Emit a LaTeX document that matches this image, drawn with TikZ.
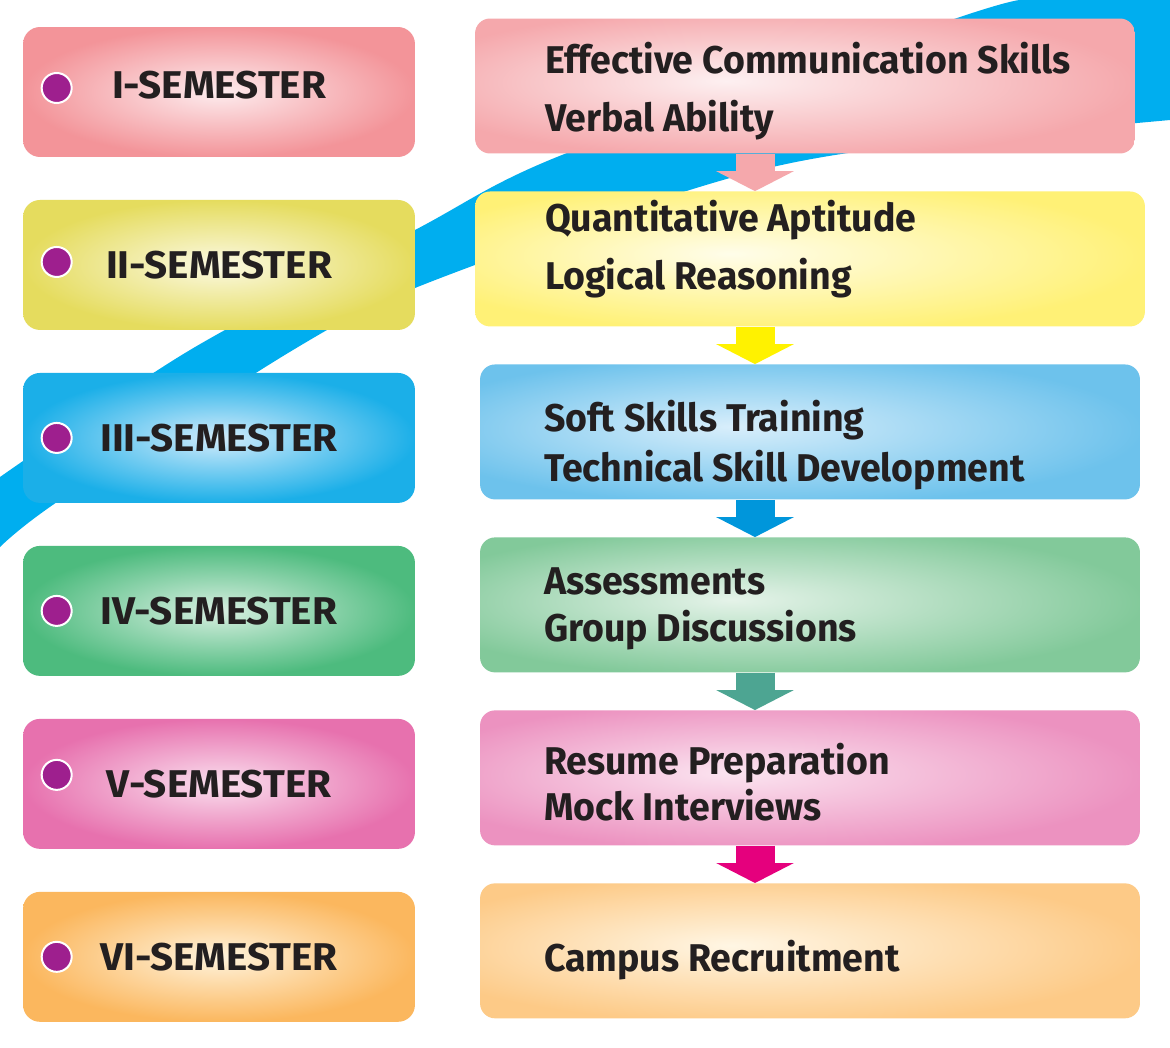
\documentclass[tikz,border=0pt]{standalone}
\usepackage{fontspec}
\setmainfont{Fira Sans}
\newfontfamily\semfont[FakeStretch=1.045]{Fira Sans}
\newfontfamily\stepfont[FakeStretch=0.97]{Fira Sans}
\usepackage{xcolor}
\usepackage{tikz}
\usetikzlibrary{arrows.meta, positioning, calc}
\definecolor{swooshcolor}{HTML}{00AEEF}
\definecolor{dotcolor}{HTML}{9E1F8E}
\definecolor{inkcolor}{HTML}{231F20}
% semester colours
\definecolor{semAcolor}{HTML}{F39499}\definecolor{semAin}{HTML}{FDECEE}
\definecolor{semBcolor}{HTML}{E5DC5E}\definecolor{semBin}{HTML}{FBF9E2}
\definecolor{semCcolor}{HTML}{1BAFE8}\definecolor{semCin}{HTML}{D2EBFB}
\definecolor{semDcolor}{HTML}{4DBB7E}\definecolor{semDin}{HTML}{D8EFE1}
\definecolor{semEcolor}{HTML}{E771AE}\definecolor{semEin}{HTML}{FADFEE}
\definecolor{semFcolor}{HTML}{FBB75E}\definecolor{semFin}{HTML}{FFF3DC}
% step colours
\definecolor{stepAcolor}{HTML}{F5A8AC}\definecolor{stepAin}{HTML}{FDF0F1}
\definecolor{stepBcolor}{HTML}{FFF176}\definecolor{stepBin}{HTML}{FFFDEA}
\definecolor{stepCcolor}{HTML}{6DC2EC}\definecolor{stepCin}{HTML}{D8EEFB}
\definecolor{stepDcolor}{HTML}{82C99A}\definecolor{stepDin}{HTML}{E5F3E9}
\definecolor{stepEcolor}{HTML}{EC92C0}\definecolor{stepEin}{HTML}{FBE4F0}
\definecolor{stepFcolor}{HTML}{FDCA87}\definecolor{stepFin}{HTML}{FFF6E4}
% arrow colours
\definecolor{arrowA}{HTML}{F5A8AC}
\definecolor{arrowB}{HTML}{FFF200}
\definecolor{arrowC}{HTML}{0096DB}
\definecolor{arrowD}{HTML}{4DA592}
\definecolor{arrowE}{HTML}{E5007D}
\colorlet{glowin}{white}\colorlet{glowout}{black}
\pgfdeclareradialshading[glowin,glowout]{glow}{\pgfpoint{-6bp}{2bp}}{color(0bp)=(glowin); color(28bp)=(glowout); color(50bp)=(glowout)}
\tikzstyle{sembox} = [rectangle, rounded corners=0.34cm, minimum width=7.84cm, minimum height=2.6cm, text=inkcolor, font=\semfont\bfseries\fontsize{22}{26}\selectfont]
\tikzstyle{semdot} = [circle, fill=dotcolor, draw=white, line width=0.04cm, minimum size=0.6cm, inner sep=0pt]
\tikzstyle{stepbox} = [rectangle, rounded corners=0.3cm, minimum width=13.2cm, minimum height=2.7cm, shade, shading=glow]
\tikzstyle{steptext} = [align=left, inner sep=0pt, text=inkcolor, font=\stepfont\bfseries\fontsize{22}{26}\selectfont]
\tikzstyle{flow} = [line width=0.78cm, -{Triangle[width=1.54cm, length=0.4cm]}]
\tikzset{glowing/.style 2 args={/utils/exec={\colorlet{glowin}{#1}\colorlet{glowout}{#2}}}}

\begin{document}
\begin{tikzpicture}[x=0.02cm, y=-0.02cm, node distance=3.46cm]
    % Canvas
    \fill[white] (0,0) rectangle (1170,1048);
    \useasboundingbox (0,0) rectangle (1170,1048);

    % Swoosh
    \begin{scope}
        \clip (0,0) rectangle (1170,1048);
        \fill[swooshcolor] plot[smooth] coordinates {(0,547) (60,500) (293,350) (415,288) (680,193) (848,153) (1170,120)}
            -- (1170,0) -- plot[smooth] coordinates {(1023,0) (957,18) (567,153) (415,230) (190,350) (0,477)} -- cycle;
    \end{scope}

    % Semesters
    \node[sembox, inner color=semAin, outer color=semAcolor, text depth=0.28cm] (sem1) at (219,92) {I-SEMESTER};
    \node[sembox, below of=sem1, inner color=semBin, outer color=semBcolor] (sem2) {II-SEMESTER};
    \node[sembox, below of=sem2, inner color=semCin, outer color=semCcolor] (sem3) {III-SEMESTER};
    \node[sembox, below of=sem3, inner color=semDin, outer color=semDcolor] (sem4) {IV-SEMESTER};
    \node[sembox, below of=sem4, inner color=semEin, outer color=semEcolor] (sem5) {V-SEMESTER};
    \node[sembox, below of=sem5, inner color=semFin, outer color=semFcolor] (sem6) {VI-SEMESTER};

    % Bullets
    \node[semdot] (dot1) at ($(sem1.west)+(34,-4)$) {};
    \node[semdot] (dot2) at ($(sem2.west)+(34,-3)$) {};
    \node[semdot] (dot3) at ($(sem3.west)+(34,0)$) {};
    \node[semdot] (dot4) at ($(sem4.west)+(34,0)$) {};
    \node[semdot] (dot5) at ($(sem5.west)+(34,-9)$) {};
    \node[semdot] (dot6) at ($(sem6.west)+(34,0)$) {};

    % Steps
    \node[stepbox, glowing={stepAin}{stepAcolor}] (step1) at (805,86) {};
    \node[stepbox, glowing={stepBin}{stepBcolor}, below of=step1, xshift=0.1cm, minimum width=13.4cm] (step2) {};
    \node[stepbox, glowing={stepCin}{stepCcolor}, below of=step2] (step3) {};
    \node[stepbox, glowing={stepDin}{stepDcolor}, below of=step3] (step4) {};
    \node[stepbox, glowing={stepEin}{stepEcolor}, below of=step4] (step5) {};
    \node[stepbox, glowing={stepFin}{stepFcolor}, below of=step5] (step6) {};

    % Step texts
    \node[steptext, right=1.4cm of step1.west, yshift=-0.1cm] (txt1) {Effective Communication Skills\\[7pt]Verbal Ability};
    \node[steptext, right=1.4cm of step2.west, yshift=0.2cm] (txt2) {Quantitative Aptitude\\[7pt]Logical Reasoning};
    \node[steptext, right=1.28cm of step3.west, yshift=-0.27cm] (txt3) {Soft Skills Training\\[2.5pt]Technical Skill Development};
    \node[steptext, right=1.28cm of step4.west, yshift=-0.08cm] (txt4) {Assessments\\[0.7pt]Group Discussions};
    \node[steptext, right=1.28cm of step5.west, yshift=-0.08cm] (txt5) {Resume Preparation\\Mock Interviews};
    \node[steptext, right=1.28cm of step6.west, yshift=-0.19cm] (txt6) {Campus Recruitment};

    % Arrows
    \coordinate (lane) at (755,0);
    \draw[flow, arrowA] (step1.south -| lane) -- (step2.north -| lane);
    \draw[flow, arrowB] (step2.south -| lane) -- (step3.north -| lane);
    \draw[flow, arrowC] (step3.south -| lane) -- (step4.north -| lane);
    \draw[flow, arrowD] (step4.south -| lane) -- (step5.north -| lane);
    \draw[flow, arrowE] (step5.south -| lane) -- (step6.north -| lane);
\end{tikzpicture}
\end{document}
